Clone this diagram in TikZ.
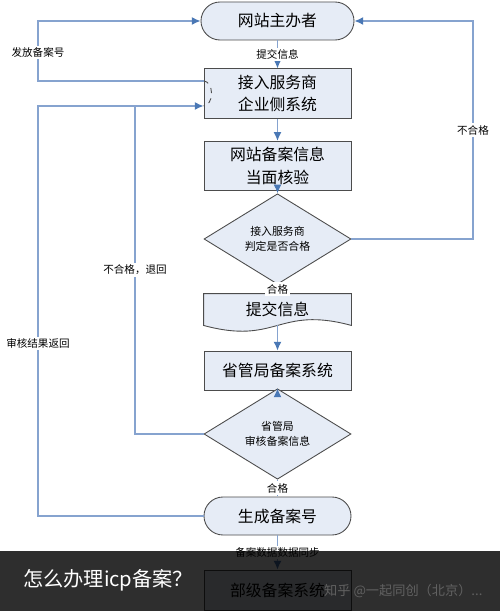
\documentclass[tikz,border=0pt]{standalone}
\usepackage{fontspec}
\setmainfont{Noto Sans CJK SC}
\usetikzlibrary{shapes.geometric, positioning, arrows.meta, calc, backgrounds}
\definecolor{boxfill}{HTML}{E6ECF6}
\definecolor{linkblue}{HTML}{86A3CF}
\definecolor{tipblue}{HTML}{4A78B5}
\tikzset{>={Latex[color=tipblue,length=5pt,width=4.5pt]},node distance=1.45cm,
proc/.style={draw=black!70, line width=0.5pt, fill=boxfill, minimum width=2.94cm, minimum height=0.9cm, align=center, font=\fontsize{9}{13}\selectfont},
term/.style={proc, rounded corners=0.38cm, minimum height=0.76cm},
decide/.style={diamond, draw=black!70, line width=0.5pt, fill=boxfill, minimum width=2.94cm, minimum height=1.06cm, inner sep=0pt, align=center, font=\fontsize{6.2}{8.5}\selectfont},
link/.style={draw=linkblue, line width=0.7pt},
lbl/.style={fill=white, inner sep=1pt, font=\fontsize{6}{7}\selectfont}}

\begin{document}
\begin{tikzpicture}
\useasboundingbox (0,0) rectangle (10,-12.22);
\coordinate (railA) at (0.76,0);
\coordinate (railB) at (2.70,0);
\coordinate (railC) at (9.46,0);

\node[term, minimum width=3.06cm] (host) at (5.55,-0.42) {网站主办者};
\node[proc, below of=host] (ent) {接入服务商\\企业侧系统};
\node[proc, minimum height=0.88cm, below of=ent] (chk) {网站备案信息\\当面核验};
\node[decide, below of=chk, node distance=1.46cm] (dec1) {接入服务商\\判定是否合格};
\node[proc, draw=none, fill=none, minimum height=0.62cm, below of=dec1, node distance=1.41cm] (doc) {提交信息};
\node[proc, minimum height=0.78cm, below of=doc, node distance=1.22cm] (prov) {省管局备案系统};
\node[decide, minimum height=1.04cm, below of=prov, node distance=1.27cm] (dec2) {省管局\\审核备案信息};
\node[term, below of=dec2, node distance=1.64cm] (gen) {生成备案号};
\node[proc, minimum height=0.8cm, below of=gen, node distance=1.48cm] (mins) {部级备案系统};

\begin{pgfonlayer}{background}
\fill[white] (0,0) rectangle (10,-12.22);
\draw[draw=black!70, line width=0.5pt, fill=boxfill] (doc.north west) -- (doc.north east) -- (doc.south east)
  .. controls ($(doc.south)+(0,0.4)$) and ($(doc.south)+(0,-0.4)$) .. (doc.south west) -- cycle;
\end{pgfonlayer}

\coordinate (ltop) at ($(ent.west)+(0,0.25)$);
\coordinate (lbot) at ($(ent.west)+(0,-0.25)$);
\draw[dashed, draw=black!70, line width=0.5pt] (ltop) arc[start angle=90, end angle=-90, x radius=0.16cm, y radius=0.25cm];

% main line
\draw[link, ->] (host) -- node[lbl] {提交信息} (ent);
\draw[link, ->] (ent) -- (chk);
\draw[link, ->] (chk) -- (dec1);
\draw[link, ->] (dec1) -- node[lbl] {合格} (doc);
\draw[link, ->] (doc) -- (prov);
\draw[link, ->] (prov) -- (dec2);
\draw[link, ->] (dec2) -- node[lbl] {合格} (gen);
\draw[link, ->] (gen) -- node[lbl] {备案数据数据同步} (mins);

% returns
\draw[link, ->] (ltop) -- (ltop -| railA) |- node[lbl, pos=0.24] {发放备案号} (host.west);
\draw[link, ->] (dec1.east) -- (dec1.east -| railC) |- node[lbl, pos=0.25] {不合格} (host.east);
\draw[link] (dec2.west) -- (dec2.west -| railB) -- node[lbl] {不合格，退回} (lbot -| railB);
\draw[link, ->] (gen.west) -- (gen.west -| railA) |- node[lbl, pos=0.21] {审核结果返回} (lbot);

% caption bar
\fill[black, opacity=0.82] (0,-11.02) rectangle (10,-12.22);
\node[anchor=west, text=white, font=\fontsize{11.5}{13}\selectfont] (title) at (0.34,-11.6) {怎么办理icp备案？};
\node[anchor=west, text=black!62, font=\fontsize{7.5}{9}\selectfont] (mark) at (6.36,-11.82) {知乎 @一起同创（北京）...};
\end{tikzpicture}
\end{document}
